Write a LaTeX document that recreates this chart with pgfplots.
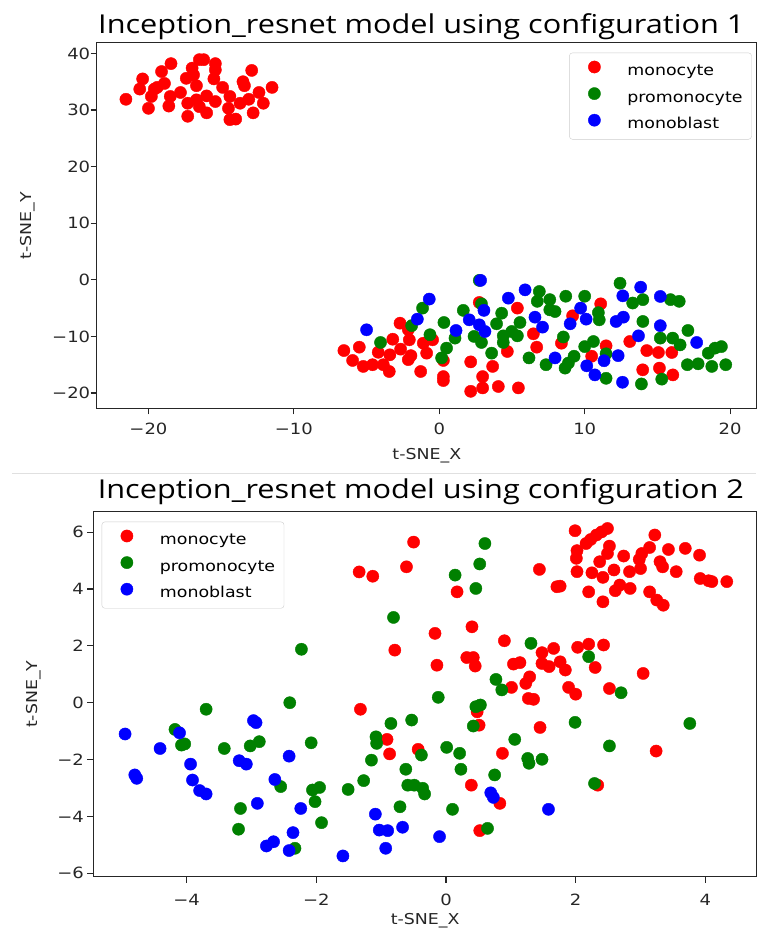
\documentclass[border=0pt]{standalone}
\usepackage{pgfplots}
\pgfplotsset{compat=1.18}
\usepackage{fontspec}
\setmainfont{DejaVu Sans}[FakeStretch=1.16]
\newfontfamily\titlefont{Open Sans}[FakeStretch=1.18]
\definecolor{mplred}{RGB}{255,0,0}
\definecolor{mplgreen}{RGB}{0,128,0}
\definecolor{mplblue}{RGB}{0,0,255}
\pgfplotsset{
  tsne/.style={
    scale only axis,
    axis line style={black!85, line width=1.1pt},
    tick align=outside,
    xtick pos=bottom, ytick pos=left,
    major tick length=6pt,
    tick style={black!85, line width=1.1pt},
    ticklabel style={font=\fontsize{15.5}{18}\selectfont, text=black!85},
    label style={font=\fontsize{15}{18}\selectfont, text=black!85},
    legend style={font=\fontsize{15}{18}\selectfont, draw=black!20, rounded corners=3pt, fill=white, inner xsep=9pt, inner ysep=7.6pt, row sep=8.6pt, column sep=0pt, nodes={inner sep=0pt, text height=11pt, text depth=3pt}},
    legend cell align=left,
    legend image code/.code={\path[draw=none,fill=none] (-16pt,-3pt) rectangle (33pt,11pt); \draw[##1] plot coordinates {(0pt,4.5pt)};},
    title style={font=\titlefont\fontsize{26}{30}\selectfont, anchor=base west},
    every axis plot/.append style={only marks, mark=*, mark size=6.1pt},
  }
}
\begin{document}
\begin{tikzpicture}[x=1pt,y=1pt]
\useasboundingbox (0,0) rectangle (756,933);
\draw[black!12, line width=1pt] (12,459) -- (756,459);
% ---------------- top plot ----------------
\begin{axis}[tsne,
  at={(96.7pt,524.7pt)}, anchor=south west,
  width=660.3pt, height=365.6pt,
  xmin=-23.56, xmax=21.85, ymin=-22.7, ymax=41.9,
  xtick={-20,-10,0,10,20}, xticklabels={−20,−10,0,10,20},
  ytick={-20,-10,0,10,20,30,40}, yticklabels={−20,−10,0,10,20,30,40},
  xticklabel style={yshift=-5pt}, yticklabel style={xshift=3pt},
  xlabel={t-SNE\_X}, ylabel={t-SNE\_Y},
  xlabel style={at={(axis description cs:0.5,-0.1414)}, anchor=base},
  ylabel style={at={(axis description cs:-0.098,0.5)}, anchor=base},
  title={Inception\_resnet model using configuration 1},
  title style={at={(axis description cs:0,1)}, xshift=-2pt, yshift=3.4pt},
  legend style={at={(axis description cs:0.992,0.9726)}, anchor=north east},
]
\addplot[mplred] coordinates {
(-21.55,31.9) (-20.4,35.5) (-20.6,33.7) (-19.1,36.8) (-18.45,38.2) (-20.0,30.3) (-19.8,32.4) (-19.6,33.7) (-19.4,34.0) (-18.9,34.7) (-18.5,32.4) (-18.6,30.7) (-17.8,33.1) (-17.3,31.2) (-17.3,28.9) (-17.4,35.6) (-17.0,37.4) (-16.5,38.9) (-16.2,38.9) (-16.9,36.2) (-16.7,34.3) (-16.7,31.8) (-16.5,30.6) (-16.0,29.5) (-16.0,32.5) (-15.4,38.2) (-15.4,37.1) (-15.5,35.5) (-15.4,31.5) (-14.9,34.0) (-14.4,32.4) (-14.5,30.3) (-14.4,28.3) (-14.0,28.4) (-13.5,35.0) (-13.4,34.3) (-12.9,37.0) (-13.7,31.2) (-13.1,31.9) (-12.8,29.5) (-12.4,33.1) (-12.1,31.2) (-11.5,34.0)
(-6.56,-12.5) (-5.5,-11.9) (-5.96,-14.25) (-5.23,-15.3) (-4.59,-15.0) (-4.2,-12.8) (-3.85,-15.0) (-3.44,-16.2) (-3.4,-13.25) (-3.2,-10.5) (-2.7,-7.66) (-2.66,-12.25) (-2.06,-10.6) (-2.13,-8.8) (-1.95,-13.4) (-2.13,-14.1) (-1.28,-16.2) (-1.1,-11.2) (-0.87,-12.96) (-0.46,-10.6) (0.28,-14.25) (0.28,-17.1) (0.28,-17.8) (2.16,-14.5) (2.16,-19.7) (2.75,-4.0) (2.98,-17.1) (2.98,-19.1) (3.67,-15.3) (4.06,-18.85) (4.68,-12.66) (5.37,-5.0) (5.44,-19.1) (6.47,-9.54) (6.7,-11.9) (8.4,-11.2) (9.17,-6.36) (10.48,-13.5) (11.1,-4.24) (11.47,-11.66) (13.1,-10.9) (13.99,-15.9) (14.27,-12.5) (15.07,-12.84) (15.14,-15.6) (15.99,-12.84) (16.06,-16.8)
};
\addlegendentry{monocyte}
\addplot[mplgreen] coordinates {
(-4.04,-11.07) (-1.9,-8.1) (-1.15,-5.0) (-0.64,-9.7) (0.16,-13.8) (0.5,-12.07) (0.32,-7.54) (1.08,-10.3) (1.65,-5.4) (2.39,-10.0) (2.9,-11.07) (2.75,-0.1) (2.9,-4.24) (3.6,-12.96) (3.94,-7.77) (4.29,-5.9) (4.4,-9.9) (4.4,-11.07) (4.98,-9.13) (5.37,-9.9) (5.55,-7.54) (6.17,-13.8) (6.74,-3.8) (6.88,-2.06) (7.34,-15.0) (7.6,-3.5) (7.6,-5.3) (7.96,-5.6) (8.53,-10.1) (8.7,-2.9) (8.65,-15.6) (8.88,-14.7) (9.27,-13.5) (10.0,-2.9) (10.0,-11.8) (10.6,-10.9) (10.94,-5.8) (11.0,-7.07) (11.47,-13.07) (11.47,-17.4) (12.43,-0.6) (13.3,-4.1) (14.0,-3.5) (14.0,-7.36) (13.9,-18.4) (15.2,-10.3) (15.3,-17.55) (15.9,-3.5) (16.5,-3.8) (16.05,-10.3) (16.56,-11.5) (17.1,-8.95) (17.06,-15.0) (17.8,-14.84) (18.5,-12.96) (18.96,-12.07) (19.4,-11.8) (18.74,-15.3) (19.7,-15.0)
};
\addlegendentry{promonocyte}
\addplot[mplblue] coordinates {
(-5.0,-8.83) (-1.51,-6.95) (-0.69,-3.4) (1.15,-8.95) (2.06,-7.07) (2.84,-0.1) (3.07,-5.4) (2.75,-7.95) (3.14,-9.13) (4.75,-3.24) (5.9,-1.77) (6.58,-6.6) (7.1,-8.36) (7.96,-13.8) (9.0,-7.77) (9.72,-5.0) (10.1,-6.95) (10.14,-15.2) (10.7,-16.8) (11.33,-14.3) (12.16,-7.36) (12.66,-6.6) (12.62,-2.83) (12.3,-13.4) (12.6,-18.1) (13.85,-1.3) (13.7,-9.9) (15.2,-2.94) (15.2,-8.1) (17.7,-11.07)
};
\addlegendentry{monoblast}
\end{axis}
% ---------------- bottom plot ----------------
\begin{axis}[tsne,
  at={(93.3pt,56.3pt)}, anchor=south west,
  width=663.7pt, height=365pt,
  xmin=-5.44, xmax=4.796, ymin=-6.12, ymax=6.72,
  xtick={-4,-2,0,2,4}, xticklabels={−4,−2,0,2,4},
  ytick={-6,-4,-2,0,2,4,6}, yticklabels={−6,−4,−2,0,2,4,6},
  xticklabel style={yshift=-8pt},
  xlabel={t-SNE\_X}, ylabel={t-SNE\_Y},
  xlabel style={at={(axis description cs:0.5,-0.1296)}, anchor=base},
  ylabel style={at={(axis description cs:-0.0848,0.5)}, anchor=base},
  title={Inception\_resnet model using configuration 2},
  title style={at={(axis description cs:0,1)}, xshift=1pt, yshift=7.4pt},
  legend style={at={(axis description cs:0.01266,0.9726)}, anchor=north west},
]
\addplot[mplred] coordinates {
(-1.34,4.6) (-1.13,4.45) (-0.50,5.65) (-0.61,4.78) (0.17,3.9) (-0.17,2.44) (0.40,2.67) (-0.79,1.85) (0.9,2.18) (0.32,1.59) (0.42,1.59) (0.45,1.29) (-0.14,1.32) (1.04,1.36) (1.14,1.41) (1.01,0.54) (0.48,-0.32) (-1.32,-0.23) (0.51,-0.79) (-0.91,-1.29) (-0.87,-1.8) (-0.43,-1.64) (0.87,-1.78)
(1.99,6.05) (2.32,5.9) (2.4,6.01) (2.49,6.13) (2.23,5.74) (2.16,5.6) (2.02,5.35) (2.01,5.08) (2.52,5.51) (2.49,5.25) (2.37,4.96) (2.74,5.16) (3.22,5.9) (3.14,5.46) (3.02,5.25) (2.98,5.04) (3.0,4.72) (3.43,5.39) (3.69,5.43) (3.91,5.19) (3.3,4.96) (3.34,4.78) (3.55,4.61) (3.92,4.37) (4.05,4.29) (4.1,4.26) (4.33,4.26) (1.44,4.69) (1.71,4.08) (1.76,4.1) (2.02,4.61) (2.25,4.57) (2.42,4.41) (2.59,4.67) (2.83,4.61) (2.2,3.9) (2.42,3.55) (2.61,3.94) (2.68,4.14) (2.84,4.02) (3.14,3.9) (3.25,3.61) (3.35,3.43)
(1.48,1.76) (1.66,1.91) (2.03,1.95) (2.2,2.06) (2.43,2.03) (2.3,1.24) (1.48,1.38) (1.59,1.27) (1.76,1.44) (1.84,1.15) (1.29,0.91) (1.23,0.68) (1.89,0.54) (2.0,0.3) (2.52,0.5) (3.04,1.03) (1.27,0.15) (1.35,0.12) (1.45,-0.87) (3.24,-1.7) (0.39,-2.9) (2.34,-2.9) (0.83,-3.54) (0.52,-4.5)
};
\addlegendentry{monocyte}
\addplot[mplgreen] coordinates {
(-2.23,1.88) (-2.41,0.0) (-0.81,3.0) (0.60,5.6) (0.52,4.88) (0.14,4.49) (0.46,4.02) (1.31,2.09) (2.2,1.62) (2.7,0.35) (0.77,0.82) (0.86,0.45) (-0.12,0.19) (0.46,-0.14) (0.53,-0.08) (0.42,-0.82) (-0.85,-0.73) (-0.53,-0.61) (-2.08,-1.41) (-0.38,-1.84) (0.01,-1.57) (0.21,-1.78) (1.06,-1.29) (1.99,-0.69) (2.52,-1.52) (3.76,-0.73) (1.26,-1.96) (1.28,-2.13) (1.48,-1.99) (0.23,-2.34) (0.75,-2.54) (-0.62,-2.34) (-0.59,-2.9) (-0.49,-2.9) (-0.36,-3.01) (-0.33,-3.21) (2.29,-2.84) (-0.71,-3.66) (0.10,-3.75) (0.64,-4.42)
(-4.18,-0.94) (-4.08,-1.49) (-4.03,-1.45) (-3.70,-0.23) (-3.42,-1.61) (-3.02,-1.52) (-2.88,-1.37) (-2.55,-2.95) (-3.17,-3.72) (-3.2,-4.45) (-2.06,-3.07) (-1.95,-2.98) (-2.02,-3.48) (-1.92,-4.22) (-2.33,-5.12) (-1.51,-3.05) (-1.27,-2.74) (-1.15,-2.02) (-1.08,-1.2) (-1.07,-1.43)
};
\addlegendentry{promonocyte}
\addplot[mplblue] coordinates {
(-4.95,-1.1) (-4.11,-1.06) (-4.41,-1.61) (-3.94,-2.16) (-4.80,-2.54) (-4.77,-2.66) (-3.91,-2.72) (-3.80,-3.09) (-3.70,-3.21) (-3.19,-2.04) (-3.08,-2.16) (-2.97,-0.63) (-2.93,-0.7) (-2.42,-1.88) (-2.64,-2.7) (-2.91,-3.54) (-2.24,-3.72) (-2.36,-4.57) (-2.42,-5.2) (-2.77,-5.04) (-2.66,-4.89) (-1.59,-5.39) (-1.09,-3.92) (-1.03,-4.48) (-0.9,-4.5) (-0.67,-4.38) (-0.93,-5.12) (-0.10,-4.71) (0.69,-3.17) (0.73,-3.33) (1.58,-3.75)
};
\addlegendentry{monoblast}
\end{axis}
\end{tikzpicture}
\end{document}
